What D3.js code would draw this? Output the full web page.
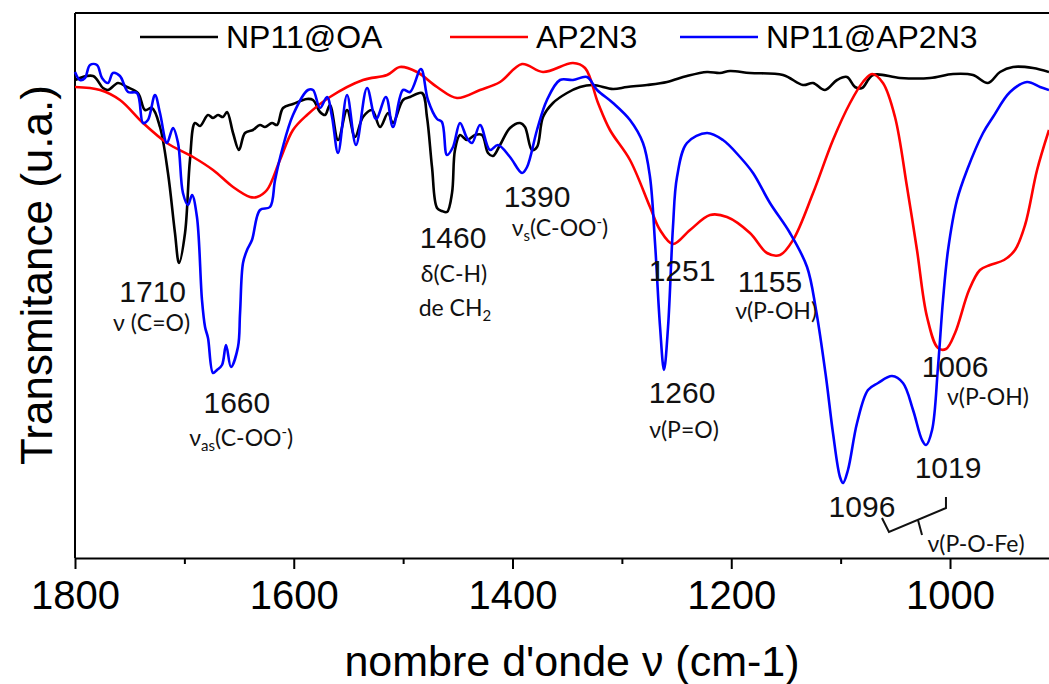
<!DOCTYPE html>
<html>
<head>
<meta charset="utf-8">
<script src="https://cdn.jsdelivr.net/npm/d3@7"></script>
<style>
  body { margin: 0; background: #fff; }
  svg { display: block; font-family: "Liberation Sans", Arial, sans-serif; }
  .curve { fill: none; stroke-width: 2.6; stroke-linejoin: round; }
  .axis path, .axis line { stroke: #000; stroke-width: 2; }
  .axis text { font-size: 40px; fill: #000; font-family: "Liberation Sans", Arial, sans-serif; }
  .num { font-size: 30px; fill: #111; }
  .desc { font-size: 23px; fill: #111; font-family: Lato, "Open Sans", sans-serif; }
</style>
</head>
<body>
<svg width="1049" height="684"></svg>
<script>
// NP11@OA (black)
const oaWn = [1800,1783.5,1774.4,1769.8,1760.7,1752.5,1742.4,1736,1729.6,1722.3,1715,1708.6,1704.9,1699.4,1694.9,1690.3,1685.7,1678.4,1673.8,1669.3,1664.7,1661,1655.5,1650.1,1644.6,1637.3,1630.9,1626.3,1619.9,1615.3,1609.8,1600.7,1587.9,1582.4,1576,1571.4,1566.9,1559.5,1551.3,1544,1536.7,1528.5,1521.1,1513.8,1509.3,1500.1,1493.7,1482.7,1478.2,1473.6,1469,1464.5,1459.9,1455.3,1452.6,1448,1441.6,1434.3,1427.9,1422.4,1417.8,1411.4,1402.3,1393.1,1388.6,1382.2,1377.6,1372.1,1363,1350.2,1338.3,1326.4,1308.1,1295.3,1277,1258.7,1240.5,1222.2,1210.3,1201.2,1182.9,1152.7,1134.4,1125.2,1114.3,1103.3,1094.2,1086.9,1080.5,1070.4,1045.7,1018.3,997.3,979,965.3,954.3,942.4,924.1,909.5];
const oaT = [95.6,96.4,94,93.6,95,94.2,93,89.6,90,86.2,77,65,59,65,79.6,87,86.4,88.6,88,88.6,88.2,89.2,85,81.6,85,85.6,86.6,86.2,87,86.6,90,90.8,91.8,91.6,89.2,88.6,90.6,83.6,89.6,84.2,88.2,89.6,86.2,89,87,91.6,92.2,93,88.2,78.2,70,69.4,69.2,73,81.6,84.6,83.6,84.6,84.6,81,80.4,82.6,86,87,86.2,81.6,82.2,88.2,91,93,94.2,94.6,93.8,94.2,94.6,95.2,96.4,97.2,97,97.4,97,96.6,94.6,95,93.6,95.6,96.2,94.2,94,96.6,96,96,96.8,96.6,95,97.2,98.2,98,97.2];

// AP2N3 (red)
const apWn = [1800,1777.1,1758.9,1737.8,1715.9,1692.1,1673.8,1655.5,1640,1633.6,1624.5,1612.6,1600.7,1587.9,1566.9,1536.7,1514.7,1502.9,1487.3,1469,1450.7,1429.7,1411.4,1391.3,1372.1,1344.7,1333.7,1321.8,1310.9,1292.6,1274.3,1265.1,1253.3,1237.7,1219.4,1203.9,1182.9,1167.3,1155.4,1143.5,1125.2,1107,1091.4,1079.6,1071.3,1061.3,1050.3,1039.3,1030.2,1021,1011,1003.7,995.4,982.6,972.6,963.4,950.6,940.6,931.4,920.4,909.5];
const apT = [94.2,93.6,91.6,87,83,80.2,77.6,74.2,72.2,72.2,73.6,79.6,85.6,88.6,92.2,95.6,96.6,98.2,97.2,94.2,92,93.6,95.2,98.8,97.2,99,98,91,85.6,79.6,70.2,65.6,62.8,65.6,68.6,68.2,65,61,60.6,63.6,73,83.6,91,95.2,96.8,95,88.2,74.2,61.6,48.2,42,41.8,45,53.6,57.6,58.6,59.6,61.6,66.6,77.6,85.6];

// NP11@AP2N3 (blue)
const npWn = [1800,1795.4,1790.9,1786.3,1779.9,1775.3,1769.8,1765.3,1758.9,1751.5,1743.3,1737.8,1733.3,1726.9,1722.3,1715.9,1710.4,1705.8,1701.3,1696.7,1693,1688.5,1683.9,1681.1,1678.4,1673.8,1670.2,1665.6,1661.9,1657.4,1651,1649.1,1646.4,1642.7,1638.2,1630.9,1621.7,1617.1,1610.7,1600.7,1587,1582.4,1576,1569.6,1565,1559.5,1551.3,1543.1,1533,1524.8,1515.7,1509.3,1500.1,1493.7,1483.7,1477.3,1469,1464.5,1459.9,1454.4,1448,1441.6,1437,1429.7,1420.6,1413.3,1402.3,1391.3,1386.7,1377.6,1368.5,1356.6,1344.7,1331.9,1322.7,1308.1,1292.6,1280.7,1274.3,1269.7,1265.1,1261.5,1257.8,1253.3,1249.6,1240.5,1222.2,1207.6,1192,1180.1,1164.6,1146.3,1130.7,1122.5,1113.4,1107,1100.6,1097.8,1093.3,1085,1075,1065.8,1053,1043,1033.8,1025.6,1021.9,1016.4,1011,1006.4,1001.8,993.6,984.4,969.8,960.7,945.1,929.6,917.7,909.5];
const npT = [97.2,95.6,96,98.6,98.6,96,95,97,96.4,93.2,93,87,87.6,92.6,89,83,86,83,73,70.6,72.6,68.2,51.6,46.2,44,37,37.6,38.6,42.6,38.2,42.2,49,59,61.6,63.6,69.6,70.2,75.6,81.6,88.6,93.6,93.6,90,92.2,88.2,81,92.6,82.6,94,87.8,92.2,86.2,93.6,93.2,97.8,91.6,87.8,87.2,80.6,82.2,87,84,83,86.6,81.6,82.6,80.2,77,78.2,85.6,91.6,95.6,95.6,96.2,93.6,91,87.6,83,76.2,63,46.2,37.6,46.2,66.2,76.2,83,85,83.6,80.2,77,71,65,58.2,49.6,36.2,25,16.2,15,17.6,27,33.6,35,36.4,35,29.6,23.6,22.6,25.6,38.2,51.6,61.6,71.6,77.6,85,88.2,93.2,95.2,94.2,93.6];

const seriesNames = ['NP11@OA', 'AP2N3', 'NP11@AP2N3'];
const seriesColors = ['#000000', '#ff0000', '#0000ff'];
const xTicks = [1800, 1600, 1400, 1200, 1000];
const xMinorTicks = [1700, 1500, 1300, 1100];

const svg = d3.select('svg');
const margin = {top: 13, left: 75, bottom: 126};
const width = 1049, height = 684;

const x = d3.scaleLinear().domain([1800, 909.5]).range([margin.left, width]);
const y = d3.scaleLinear().domain([0, 109]).range([height - margin.bottom, margin.top]);

// frame: top + left
svg.append('line').attr('x1', margin.left).attr('x2', width + 5)
   .attr('y1', margin.top).attr('y2', margin.top).attr('stroke', '#000').attr('stroke-width', 2);
svg.append('line').attr('x1', margin.left).attr('x2', margin.left)
   .attr('y1', margin.top).attr('y2', y(0)).attr('stroke', '#000').attr('stroke-width', 2);

// x axis
svg.append('g').attr('class', 'axis').attr('transform', 'translate(0,' + y(0) + ')')
   .call(d3.axisBottom(x).tickValues(xTicks).tickSize(11).tickSizeOuter(0).tickPadding(12).tickFormat(d3.format('d')));
svg.append('g').attr('class', 'axis').attr('transform', 'translate(0,' + y(0) + ')')
   .call(d3.axisBottom(x).tickValues(xMinorTicks).tickSize(6).tickSizeOuter(0).tickFormat(''))
   .select('.domain').remove();

// curves
const line = d3.line().curve(d3.curveCatmullRom.alpha(0.5)).x(d => x(d[0])).y(d => y(d[1]));
const series = [d3.zip(oaWn, oaT), d3.zip(apWn, apT), d3.zip(npWn, npT)];
series.forEach((s, i) => {
  svg.append('path').datum(s).attr('class', 'curve').attr('stroke', seriesColors[i]).attr('d', line);
});

// legend
const legendX = [140, 450, 680];
seriesNames.forEach((name, i) => {
  const g = svg.append('g').attr('transform', 'translate(' + legendX[i] + ',37)');
  g.append('line').attr('x1', 0).attr('x2', 78).attr('stroke', seriesColors[i]).attr('stroke-width', 2.6);
  g.append('text').attr('x', 86).attr('y', 11).attr('font-size', 32).text(name);
});

// axis titles
svg.append('text').attr('x', 572).attr('y', 676).attr('text-anchor', 'middle')
   .attr('font-size', 43).text('nombre d\'onde \u03bd (cm-1)');
svg.append('text').attr('transform', 'translate(52,275) rotate(-90)').attr('text-anchor', 'middle')
   .attr('font-size', 44).text('Transmitance (u.a.)');

// peak annotations, placed in data units
const ann = svg.append('g');
function num(wn, t, txt){
  ann.append('text').attr('class', 'num').attr('x', x(wn)).attr('y', y(t)).attr('text-anchor', 'middle').text(txt);
}
function desc(wn, t, parts){
  const el = ann.append('text').attr('class', 'desc').attr('x', x(wn)).attr('y', y(t)).attr('text-anchor', 'middle');
  parts.forEach(p => {
    const ts = el.append('tspan').text(p[0]);
    if (p[1] == 'sub') ts.attr('font-size', 15).attr('dy', 5);
    if (p[1] == 'sup') ts.attr('font-size', 15).attr('dy', -9);
    if (p[1] == 'back') ts.attr('dy', p[2]);
  });
}
num(1729, 51.2, '1710');
desc(1730, 45.4, [['\u03bd (C=O)']]);
num(1652, 29, '1660');
desc(1648, 22.4, [['\u03bd'], ['as', 'sub'], ['(C-OO', 'back', -5], ['-', 'sup'], [')', 'back', 9]]);
num(1454.4, 62, '1460');
desc(1453.5, 55.2, [['\u03b4(C-H)']]);
desc(1452.6, 48.4, [['de CH'], ['2', 'sub']]);
num(1377.6, 70.2, '1390');
desc(1356.6, 64.4, [['\u03bd'], ['s', 'sub'], ['(C-OO', 'back', -5], ['-', 'sup'], [')', 'back', 9]]);
num(1245, 55.4, '1251');
num(1164.6, 53.2, '1155');
desc(1159, 47.8, [['\u03bd(P-OH)']]);
num(1245, 31, '1260');
desc(1243.2, 24, [['\u03bd(P=O)']]);
num(995.4, 36.2, '1006');
desc(965.3, 30.6, [['\u03bd(P-OH)']]);
num(1001.8, 16, '1019');
num(1080.5, 8.2, '1096');
desc(976.2, 1.2, [['\u03bd(P-O-Fe)']]);

// bracket grouping 1096 / 1019
const bracket = [[1062.2, 8], [1055.8, 5.2], [1003.7, 10], [1003.7, 12.2]];
const stem = [[1029.3, 7.6], [1025.6, 4.6]];
const plain = d3.line().x(d => x(d[0])).y(d => y(d[1]));
ann.append('path').attr('d', plain(bracket)).attr('fill', 'none').attr('stroke', '#111').attr('stroke-width', 2);
ann.append('path').attr('d', plain(stem)).attr('fill', 'none').attr('stroke', '#111').attr('stroke-width', 2);
</script>
</body>
</html>
